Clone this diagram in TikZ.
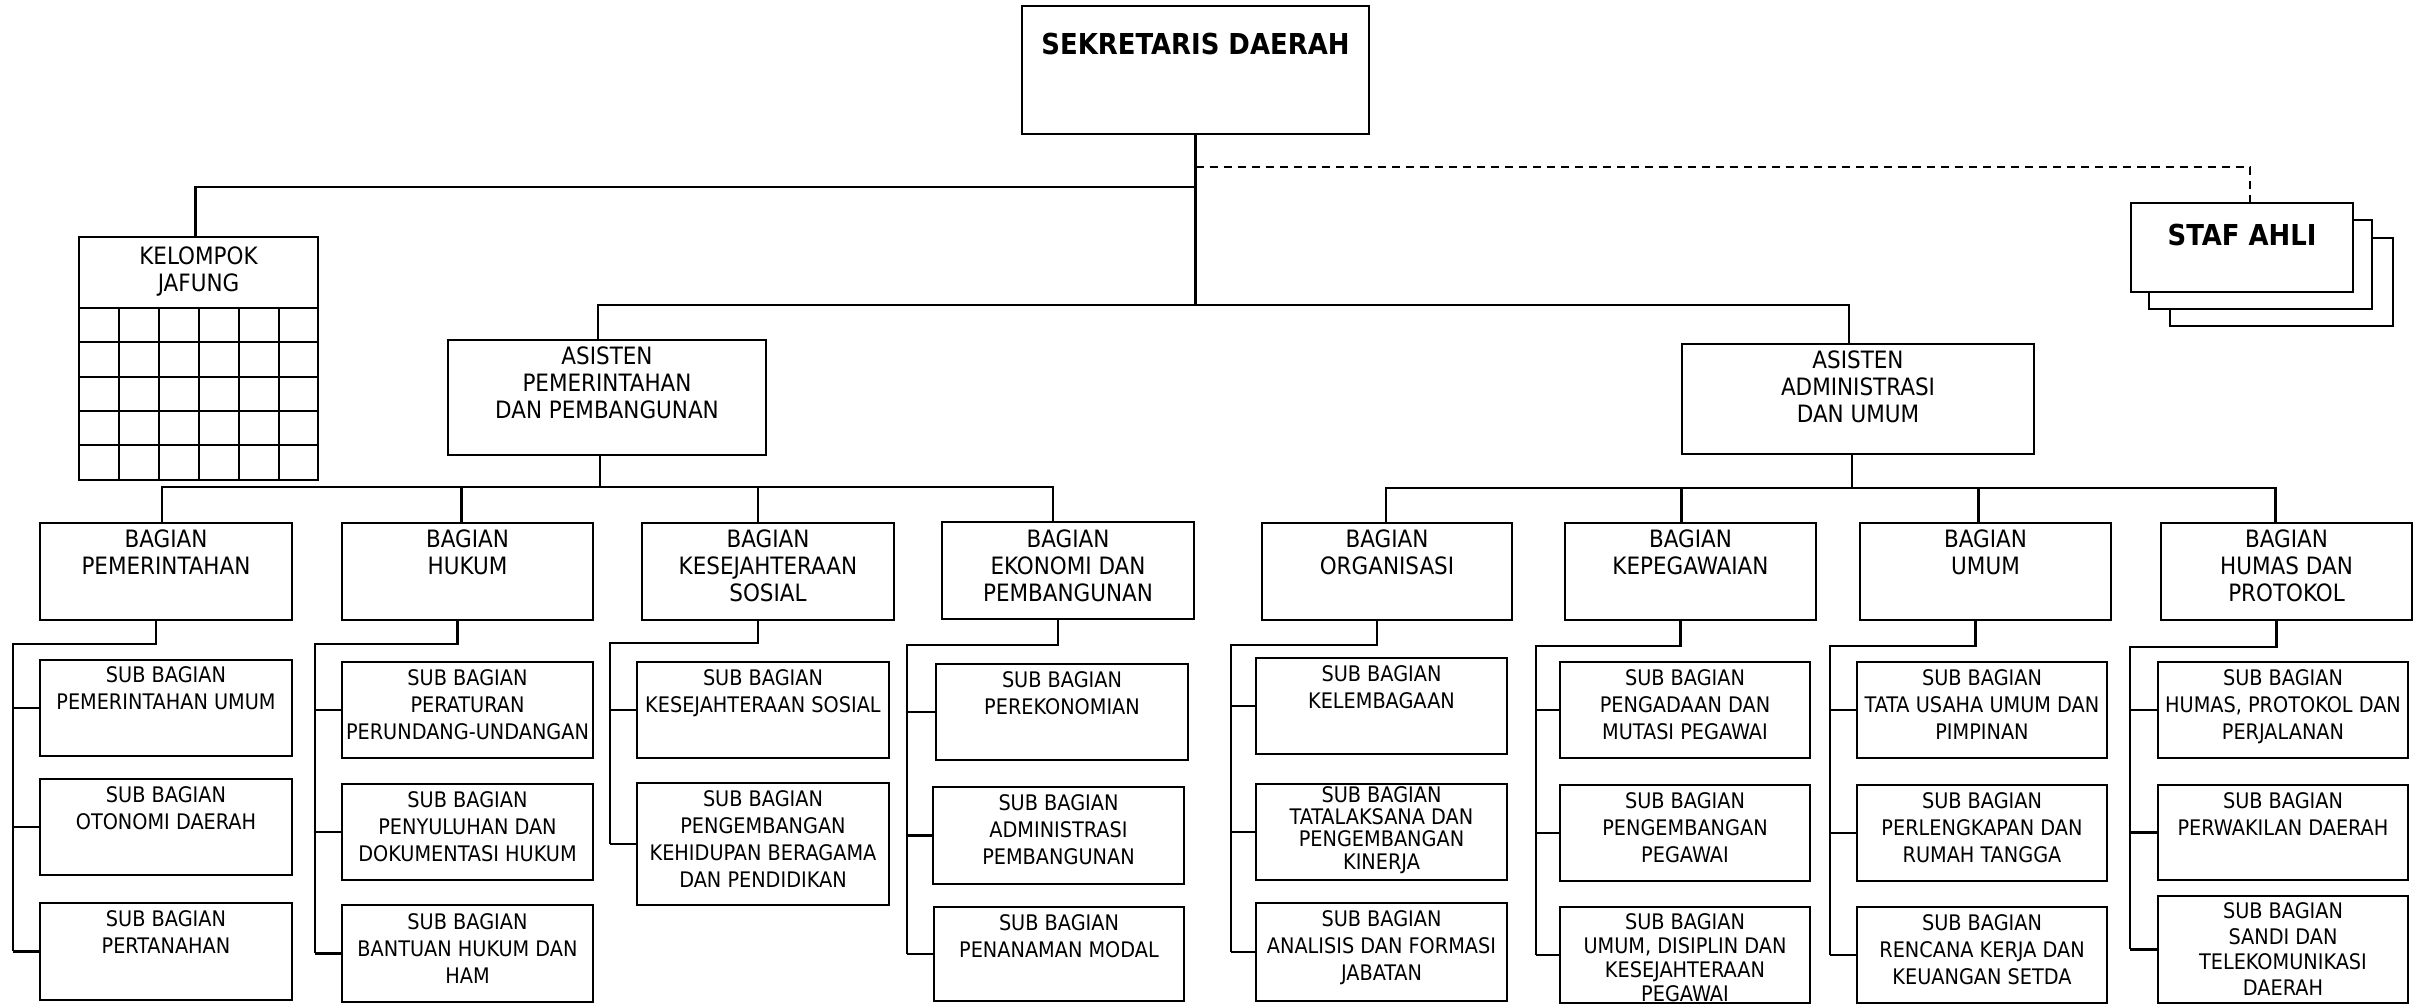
\documentclass[tikz,border=0pt]{standalone}
\usepackage{fontspec}
\setmainfont{DejaVu Sans Condensed}
\begin{document}
\begin{tikzpicture}[x=0.1mm,y=-0.1mm,
  orgbox/.style={draw, line width=0.8pt, fill=white, inner sep=0pt, outer sep=0pt},
  subt/.style={align=center, inner sep=0pt, anchor=north, font=\fontsize{6.1}{7.7}\selectfont},
  bagt/.style={align=center, inner sep=0pt, anchor=north, font=\fontsize{6.8}{7.7}\selectfont},
  boldt/.style={align=center, inner sep=0pt, anchor=north, font=\fontsize{8.2}{9}\selectfont\bfseries},
  conn/.style={line width=0.6pt},
  dashconn/.style={line width=0.6pt, dash pattern=on 2.3pt off 1.7pt}]
\newcommand\ubox[8]{%
  \node[orgbox, minimum width={(#4-#2)*0.1mm}, minimum height={(#5-#3)*0.1mm}] (#1) at ({(#2+#4)/2},{(#3+#5)/2}) {};
  \node[#6] (#1t) at ({(#2+#4)/2},#7) {#8};}
\fill[white] (0,0) rectangle (2420,1005);
\useasboundingbox (0,0) rectangle (2420,1005);

% top level
\ubox{sekda}{1022}{6}{1369}{134}{boldt}{32}{SEKRETARIS DAERAH}
\node[orgbox, minimum width={223*0.1mm}, minimum height={88*0.1mm}] (staf3) at ({(2170+2393)/2},{(238+326)/2}) {};
\node[orgbox, minimum width={223*0.1mm}, minimum height={89*0.1mm}] (staf2) at ({(2149+2372)/2},{(220+309)/2}) {};
\ubox{staf1}{2131}{203}{2353}{292}{boldt}{223}{STAF AHLI}
\ubox{kel}{79}{237}{318}{480}{bagt}{246}{KELOMPOK\\JAFUNG}
\foreach \yy in {308,342,377,411,445} \draw[line width=0.8pt] (79,\yy) -- (318,\yy);
\foreach \xx in {119,159,199,239,279} \draw[line width=0.8pt] (\xx,308) -- (\xx,480);
\ubox{aspem}{448}{340}{766}{455}{bagt}{346}{ASISTEN\\PEMERINTAHAN\\DAN PEMBANGUNAN}
\ubox{asadm}{1682}{344}{2034}{454}{bagt}{350}{ASISTEN\\ADMINISTRASI\\DAN UMUM}

% bagian
\ubox{b1}{40}{523}{292}{620}{bagt}{529}{BAGIAN\\PEMERINTAHAN}
\ubox{b2}{342}{523}{593}{620}{bagt}{529}{BAGIAN\\HUKUM}
\ubox{b3}{642}{523}{894}{620}{bagt}{529}{BAGIAN\\KESEJAHTERAAN\\SOSIAL}
\ubox{b4}{942}{522}{1194}{619}{bagt}{529}{BAGIAN\\EKONOMI DAN\\PEMBANGUNAN}
\ubox{b5}{1262}{523}{1512}{620}{bagt}{529}{BAGIAN\\ORGANISASI}
\ubox{b6}{1565}{523}{1816}{620}{bagt}{529}{BAGIAN\\KEPEGAWAIAN}
\ubox{b7}{1860}{523}{2111}{620}{bagt}{529}{BAGIAN\\UMUM}
\ubox{b8}{2161}{523}{2412}{620}{bagt}{529}{BAGIAN\\HUMAS DAN\\PROTOKOL}

% sub bagian
\ubox{s11}{40}{660}{292}{756}{subt}{666}{SUB BAGIAN\\PEMERINTAHAN UMUM}
\ubox{s12}{40}{779}{292}{875}{subt}{786}{SUB BAGIAN\\OTONOMI DAERAH}
\ubox{s13}{40}{903}{292}{1000}{subt}{910}{SUB BAGIAN\\PERTANAHAN}
\ubox{s21}{342}{662}{593}{758}{subt}{669}{SUB BAGIAN\\PERATURAN\\PERUNDANG-UNDANGAN}
\ubox{s22}{342}{784}{593}{880}{subt}{791}{SUB BAGIAN\\PENYULUHAN DAN\\DOKUMENTASI HUKUM}
\ubox{s23}{342}{905}{593}{1002}{subt}{913}{SUB BAGIAN\\BANTUAN HUKUM DAN\\HAM}
\ubox{s31}{637}{662}{889}{758}{subt}{669}{SUB BAGIAN\\KESEJAHTERAAN SOSIAL}
\ubox{s32}{637}{783}{889}{905}{subt}{790}{SUB BAGIAN\\PENGEMBANGAN\\KEHIDUPAN BERAGAMA\\DAN PENDIDIKAN}
\ubox{s41}{936}{664}{1188}{760}{subt}{671}{SUB BAGIAN\\PEREKONOMIAN}
\ubox{s42}{933}{787}{1184}{884}{subt}{794}{SUB BAGIAN\\ADMINISTRASI\\PEMBANGUNAN}
\ubox{s43}{934}{907}{1184}{1001}{subt}{914}{SUB BAGIAN\\PENANAMAN MODAL}
\ubox{s51}{1256}{658}{1507}{754}{subt}{665}{SUB BAGIAN\\KELEMBAGAAN}
\ubox{s52}{1256}{784}{1507}{880}{subt,font=\fontsize{6.1}{6.3}\selectfont}{786}{SUB BAGIAN\\TATALAKSANA DAN\\PENGEMBANGAN\\KINERJA}
\ubox{s53}{1256}{903}{1507}{1001}{subt}{910}{SUB BAGIAN\\ANALISIS DAN FORMASI\\JABATAN}
\ubox{s61}{1560}{662}{1810}{758}{subt}{669}{SUB BAGIAN\\PENGADAAN DAN\\MUTASI PEGAWAI}
\ubox{s62}{1560}{785}{1810}{881}{subt}{792}{SUB BAGIAN\\PENGEMBANGAN\\PEGAWAI}
\ubox{s63}{1560}{907}{1810}{1003}{subt,font=\fontsize{6.1}{6.8}\selectfont}{913}{SUB BAGIAN\\UMUM, DISIPLIN DAN\\KESEJAHTERAAN\\PEGAWAI}
\ubox{s71}{1857}{662}{2107}{758}{subt}{669}{SUB BAGIAN\\TATA USAHA UMUM DAN\\PIMPINAN}
\ubox{s72}{1857}{785}{2107}{881}{subt}{792}{SUB BAGIAN\\PERLENGKAPAN DAN\\RUMAH TANGGA}
\ubox{s73}{1857}{907}{2107}{1003}{subt}{914}{SUB BAGIAN\\RENCANA KERJA DAN\\KEUANGAN SETDA}
\ubox{s81}{2158}{662}{2408}{758}{subt}{669}{SUB BAGIAN\\HUMAS, PROTOKOL DAN\\PERJALANAN}
\ubox{s82}{2158}{785}{2408}{880}{subt}{792}{SUB BAGIAN\\PERWAKILAN DAERAH}
\ubox{s83}{2158}{896}{2408}{1003}{subt,font=\fontsize{6.1}{7.3}\selectfont}{902}{SUB BAGIAN\\SANDI DAN\\TELEKOMUNIKASI\\DAERAH}

% top connectors
\coordinate (busS) at (1195.5,167);
\coordinate (busK) at (1195.5,187);
\coordinate (busA) at (1195.5,305);
\draw[conn] (sekda.south) -- (busA);
\draw[dashconn] (busS) -| ([xshift=0.8mm]staf1.north);
\draw[conn] ([xshift=-0.3mm]kel.north) |- (busK);
\draw[conn] ([xshift=-0.9mm]aspem.north) |- (busA) -| ([xshift=-0.9mm]asadm.north);

% asisten -> bagian
\coordinate (busP) at (0,487);
\coordinate (busQ) at (0,488);
\draw[conn] ([xshift=-0.7mm]aspem.south) -- ([xshift=-0.7mm]aspem.south |- busP);
\draw[conn] ([xshift=-0.4mm]b1.north) |- ([xshift=-1.5mm]b4.north |- busP) -- ([xshift=-1.5mm]b4.north);
\draw[conn] ([xshift=-0.6mm]b2.north) -- ([xshift=-0.6mm]b2.north |- busP);
\draw[conn] ([xshift=-1mm]b3.north) -- ([xshift=-1mm]b3.north |- busP);
\draw[conn] ([xshift=-0.6mm]asadm.south) -- ([xshift=-0.6mm]asadm.south |- busQ);
\draw[conn] ([xshift=-0.1mm]b5.north) |- ([xshift=-1.1mm]b8.north |- busQ) -- ([xshift=-1.1mm]b8.north);
\draw[conn] ([xshift=-0.9mm]b6.north) -- ([xshift=-0.9mm]b6.north |- busQ);
\draw[conn] ([xshift=-0.7mm]b7.north) -- ([xshift=-0.7mm]b7.north |- busQ);

% bagian -> sub bagian
\coordinate (c1) at (13,644);
\coordinate (c2) at (315,644);
\coordinate (c3) at (610,643);
\coordinate (c4) at (907,645);
\coordinate (c5) at (1231,645);
\coordinate (c6) at (1536,646);
\coordinate (c7) at (1830,646);
\coordinate (c8) at (2130,647);
\foreach \i/\last in {1/3,2/3,3/2,4/3,5/3,6/3,7/3,8/3}{
  \draw[conn] ([xshift=-1mm]b\i.south) |- (c\i) -- (c\i |- s\i\last.west);
  \foreach \j in {1,...,\last} \draw[conn] (c\i |- s\i\j.west) -- (s\i\j.west);
}
\end{tikzpicture}
\end{document}
